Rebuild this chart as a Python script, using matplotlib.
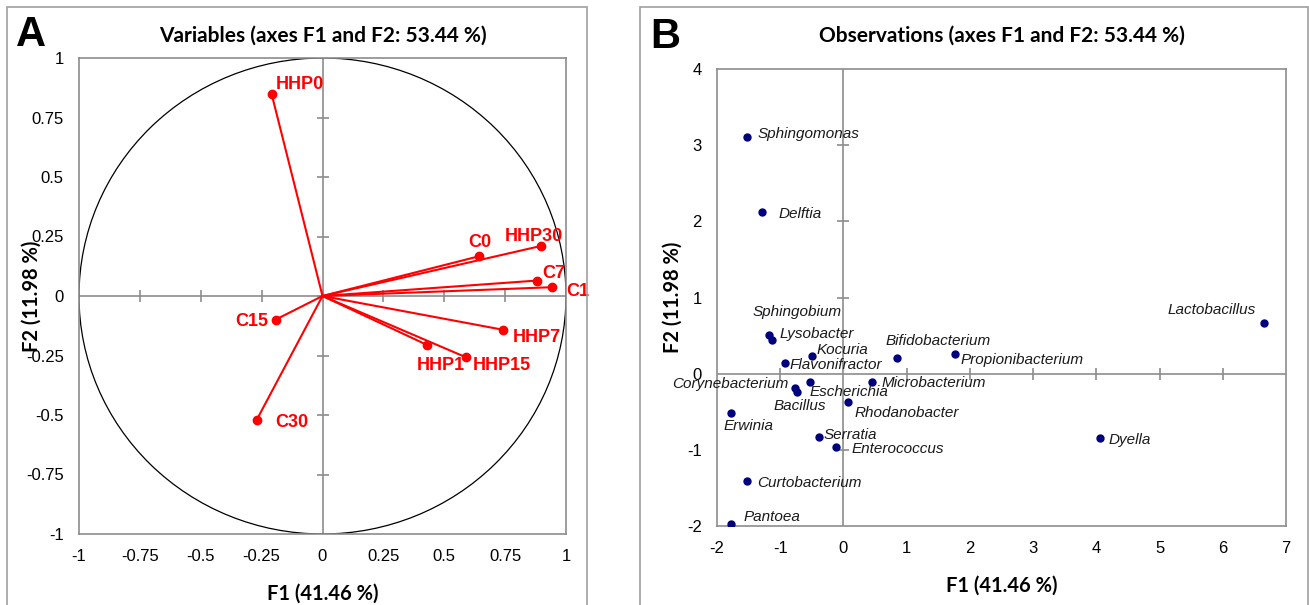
import matplotlib
matplotlib.use("Agg")
import matplotlib.pyplot as plt
from matplotlib.patches import Rectangle, Circle
import numpy as np

plt.rcParams["axes.unicode_minus"] = False

# ---------------- Data ----------------
var_names = ["HHP0", "C0", "HHP30", "C7", "C1", "HHP7", "HHP1", "HHP15", "C15", "C30"]
var_f1 = [-0.209, 0.643, 0.896, 0.882, 0.943, 0.742, 0.428, 0.588, -0.192, -0.271]
var_f2 = [0.849, 0.167, 0.210, 0.065, 0.037, -0.142, -0.205, -0.257, -0.099, -0.522]

obs_names = ["Sphingomonas", "Delftia", "Sphingobium", "Lysobacter", "Kocuria",
             "Flavonifractor", "Bifidobacterium", "Propionibacterium", "Lactobacillus",
             "Corynebacterium", "Bacillus", "Escherichia", "Microbacterium",
             "Rhodanobacter", "Erwinia", "Serratia", "Enterococcus", "Dyella",
             "Curtobacterium", "Pantoea"]
obs_f1 = [-1.528, -1.285, -1.178, -1.124, -0.505, -0.929, 0.848, 1.77, 6.655,
          -0.760, -0.733, -0.532, 0.444, 0.067, -1.777, -0.390, -0.121, 4.058,
          -1.528, -1.777]
obs_f2 = [3.11, 2.124, 0.507, 0.436, 0.238, 0.142, 0.208, 0.253, 0.659,
          -0.193, -0.238, -0.106, -0.106, -0.375, -0.512, -0.826, -0.963, -0.846,
          -1.409, -1.972]

a_ticks = [-1, -0.75, -0.5, -0.25, 0, 0.25, 0.5, 0.75, 1]
a_ticklabels = ["-1", "-0.75", "-0.5", "-0.25", "0", "0.25", "0.5", "0.75", "1"]
b_xticks = [-2, -1, 0, 1, 2, 3, 4, 5, 6, 7]
b_yticks = [-2, -1, 0, 1, 2, 3, 4]

title_a = "Variables (axes F1 and F2: 53.44 %)"
title_b = "Observations (axes F1 and F2: 53.44 %)"
xlab = "F1 (41.46 %)"
ylab = "F2 (11.98 %)"

# label offsets (pixels) and alignment
var_lab = {
    "HHP0": (4.5, 9.7, "left"), "C0": (1, 14, "center"), "HHP30": (-6.5, 10, "center"),
    "C7": (5.3, 7, "left"), "C1": (14, -4, "left"), "HHP7": (9.4, -7.3, "left"),
    "HHP1": (14, -21, "center"), "HHP15": (7.4, -8.5, "left"),
    "C15": (-7, -2.3, "right"), "C30": (18.4, -2.3, "left"),
}
obs_lab = {
    "Sphingomonas": (11, 2.3, "left"), "Delftia": (16, -2, "left"),
    "Sphingobium": (-16, 23, "left"), "Lysobacter": (7, 6, "left"),
    "Kocuria": (5.5, 6, "left"), "Flavonifractor": (4.7, -2.3, "left"),
    "Bifidobacterium": (-12, 16.6, "left"), "Propionibacterium": (5.6, -6, "left"),
    "Lactobacillus": (-8.5, 13, "right"), "Corynebacterium": (-7, 4, "right"),
    "Bacillus": (3, -14, "center"), "Escherichia": (0, -10.4, "left"),
    "Microbacterium": (10, -1.5, "left"), "Rhodanobacter": (6.4, -10.4, "left"),
    "Erwinia": (-7.7, -13, "left"), "Serratia": (4.3, 2, "left"),
    "Enterococcus": (16, -2.3, "left"), "Dyella": (8.5, -2.3, "left"),
    "Curtobacterium": (10, -2, "left"), "Pantoea": (12.4, 7.3, "left"),
}

W, H = 1309, 605
fig = plt.figure(figsize=(W / 100, H / 100), dpi=100)
PX = 0.72  # pixels -> points

grey = "#8c8c8c"
title_font = dict(family="Lato", size=15, weight="bold")
lab_font = dict(family="Lato", size=14.5, weight="bold")

# Panel frames
fig.add_artist(Rectangle((7 / W, -0.05), (587 - 7) / W, 1.05 - 7 / H,
                         transform=fig.transFigure, fill=False, ec="#a0a0a0", lw=1.2))
fig.add_artist(Rectangle((640 / W, -0.05), (1308 - 640) / W, 1.05 - 7 / H,
                         transform=fig.transFigure, fill=False, ec="#a0a0a0", lw=1.2))


def add_ax(l, t, r, b):
    return fig.add_axes([l / W, 1 - b / H, (r - l) / W, (b - t) / H])


def style(ax):
    for s in ax.spines.values():
        s.set_color(grey)
        s.set_linewidth(1.2)
    ax.tick_params(length=0, labelsize=12)
    ax.tick_params(axis="x", pad=11)
    ax.tick_params(axis="y", pad=11)
    for lbl in ax.get_xticklabels() + ax.get_yticklabels():
        lbl.set_fontfamily("Liberation Sans")


# ---------------- Panel A ----------------
axA = add_ax(79, 58, 566, 534)
axA.set_xlim(-1, 1)
axA.set_ylim(-1, 1)
axA.axhline(0, color=grey, lw=1.2, zorder=1)
axA.axvline(0, color=grey, lw=1.2, zorder=1)
axA.plot(a_ticks[1:-1], [0] * (len(a_ticks) - 2), ls="none", marker="|",
         ms=9, mew=1.2, color=grey, zorder=1)
axA.plot([0] * (len(a_ticks) - 2), a_ticks[1:-1], ls="none", marker="_",
         ms=9, mew=1.2, color=grey, zorder=1)
axA.add_patch(Circle((0, 0), 1, fill=False, ec="black", lw=0.9, zorder=2))
for x, y in zip(var_f1, var_f2):
    axA.plot([0, x], [0, y], color="red", lw=1.5, zorder=3)
axA.plot(var_f1, var_f2, ls="none", marker="o", ms=6, color="red", zorder=4)
for n, x, y in zip(var_names, var_f1, var_f2):
    dx, dy, ha = var_lab[n]
    axA.annotate(n, (x, y), xytext=(dx * PX, dy * PX), textcoords="offset points",
                 ha=ha, va="center", color="red", fontsize=13, fontweight="bold",
                 fontfamily="Liberation Sans", zorder=5)
axA.set_xticks(a_ticks)
axA.set_xticklabels(a_ticklabels)
axA.set_yticks(a_ticks)
axA.set_yticklabels(a_ticklabels)
style(axA)
axA.set_title(title_a, pad=12, **title_font)
axA.set_xlabel(xlab, labelpad=14, **lab_font)
axA.set_ylabel(ylab, **lab_font)
axA.yaxis.set_label_coords(-0.076, 0.5)
fig.text(16 / W, 1 - 35 / H, "A", fontsize=30, fontweight="bold",
         fontfamily="Liberation Sans", va="center", ha="left")

# ---------------- Panel B ----------------
axB = add_ax(717, 69, 1286, 526)
axB.set_xlim(-2, 7)
axB.set_ylim(-2, 4)
axB.axhline(0, color=grey, lw=1.2, zorder=1)
axB.axvline(0, color=grey, lw=1.2, zorder=1)
bx = [v for v in b_xticks if v not in (-2, 7, 0)]
by = [v for v in b_yticks if v not in (-2, 4, 0)]
axB.plot(bx, [0] * len(bx), ls="none", marker="|", ms=9, mew=1.2, color=grey, zorder=1)
axB.plot([0] * len(by), by, ls="none", marker="_", ms=9, mew=1.2, color=grey, zorder=1)
axB.plot(obs_f1, obs_f2, ls="none", marker="o", ms=5, color="#00007f", zorder=4)
for n, x, y in zip(obs_names, obs_f1, obs_f2):
    dx, dy, ha = obs_lab[n]
    axB.annotate(n, (x, y), xytext=(dx * PX, dy * PX), textcoords="offset points",
                 ha=ha, va="center", color="#1a1a1a", fontsize=11, fontstyle="italic",
                 fontfamily="Liberation Sans", zorder=5)
axB.set_xticks(b_xticks)
axB.set_yticks(b_yticks)
style(axB)
axB.set_title(title_b, pad=20, **title_font)
axB.set_xlabel(xlab, labelpad=14, **lab_font)
axB.set_ylabel(ylab, **lab_font)
axB.yaxis.set_label_coords(-0.061, 0.5)
fig.text(650 / W, 1 - 37 / H, "B", fontsize=30, fontweight="bold",
         fontfamily="Liberation Sans", va="center", ha="left")

fig.savefig("out.png", dpi=100)
